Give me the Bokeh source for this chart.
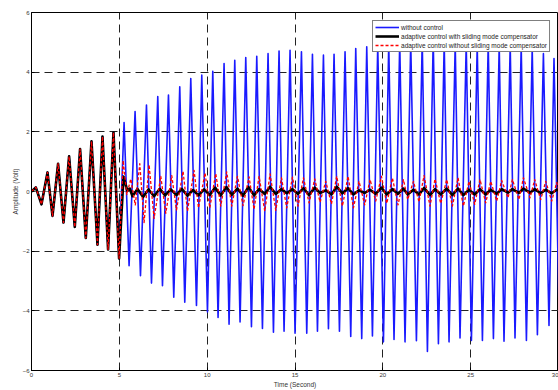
from bokeh.plotting import figure
from bokeh.models import Range1d, FixedTicker, Span, Legend, LegendItem
from bokeh.embed import file_html
from bokeh.resources import INLINE

# ---- data (time in seconds, amplitude in volts) ----
# common part (all three signals coincide before t = 5 s)
common_t = [0.00, 0.245, 0.569, 0.911, 1.195, 1.514, 1.821, 2.140, 2.464, 2.766,
            3.090, 3.415, 3.756, 4.041, 4.360, 4.667, 4.986]
common_v = [0.00, 0.14, -0.43, 0.64, -0.82, 0.93, -1.04, 1.18, -1.19, 1.42,
            -1.56, 1.68, -1.78, 1.84, -1.94, 1.98, -2.24]

# without control (after t = 5 s)
blue_t = [5.27, 5.555, 5.896, 6.204, 6.545, 6.830, 7.188, 7.456, 7.797, 8.099,
          8.440, 8.725, 9.067, 9.391, 9.693, 10.017, 10.319, 10.620, 10.962, 11.246,
          11.571, 11.872, 12.197, 12.521, 12.823, 13.147, 13.466, 13.773, 14.092, 14.377,
          14.718, 15.003, 15.367, 15.669, 15.993, 16.278, 16.619, 16.904, 17.223, 17.530,
          17.849, 18.173, 18.458, 18.799, 19.084, 19.408, 19.710, 20.034, 20.336, 20.637,
          20.962, 21.263, 21.588, 21.912, 22.242, 22.538, 22.868, 23.164, 23.494, 23.768,
          24.121, 24.394, 24.747, 25.043, 25.373, 25.669, 25.999, 26.295, 26.625, 26.898,
          27.251, 27.524, 27.877, 28.173, 28.503, 28.799, 29.141, 29.459, 29.744, 30.04]
blue_v = [2.31, -2.49, 2.68, -2.82, 2.90, -3.07, 3.18, -3.16, 3.23, -3.54,
          3.51, -3.71, 3.79, -3.82, 3.90, -4.04, 4.03, -4.22, 4.29, -4.45,
          4.40, -4.37, 4.49, -4.53, 4.53, -4.59, 4.62, -4.72, 4.71, -4.68,
          4.73, -4.75, 4.68, -4.75, 4.60, -4.68, 4.57, -4.60, 4.60, -4.68,
          4.68, -4.86, 4.79, -4.93, 4.85, -4.84, 4.90, -5.04, 4.95, -4.96,
          5.00, -5.04, 5.00, -5.00, 5.05, -5.36, 5.10, -5.10, 5.00, -5.04,
          4.95, -4.91, 4.95, -4.99, 4.90, -4.99, 4.95, -4.93, 4.90, -5.02,
          4.90, -4.91, 4.85, -4.99, 4.80, -4.80, 4.62, -4.49, 4.46, -4.30]

# adaptive control with sliding mode compensator (after t = 5 s)
black_t = [5.238, 5.455, 5.595, 5.748, 6.033, 6.352, 6.659, 6.978, 7.302, 7.604,
           7.928, 8.253, 8.554, 8.879, 9.197, 9.505, 9.823, 10.148, 10.450, 10.774,
           11.098, 11.400, 11.724, 12.043, 12.351, 12.669, 12.954, 13.278, 13.580, 13.904,
           14.229, 14.530, 14.855, 15.173, 15.481, 15.800, 16.124, 16.426, 16.750, 17.074,
           17.376, 17.700, 18.019, 18.327, 18.645, 18.970, 19.271, 19.596, 19.920, 20.222,
           20.546, 20.865, 21.172, 21.417, 21.741, 22.060, 22.345, 22.686, 22.971, 23.295,
           23.637, 23.961, 24.280, 24.587, 24.906, 25.230, 25.532, 25.856, 26.141, 26.483,
           26.767, 27.126, 27.376, 27.752, 28.002, 28.378, 28.645, 28.987, 29.272, 29.613,
           29.898, 30.22]
black_v = [0.50, 0.02, 0.10, -0.16, 0.08, -0.18, 0.07, -0.16, 0.09, -0.13,
           0.07, -0.12, 0.09, -0.14, 0.05, -0.13, 0.07, -0.12, 0.13, -0.13,
           0.15, -0.11, 0.10, -0.14, 0.15, -0.13, 0.08, -0.08, 0.16, -0.08,
           0.08, -0.06, 0.08, -0.08, 0.11, -0.12, 0.13, -0.05, 0.04, -0.10,
           0.16, -0.06, 0.11, -0.10, 0.04, -0.05, 0.06, -0.08, 0.13, -0.10,
           0.08, -0.08, 0.10, -0.10, 0.06, -0.10, 0.12, -0.12, 0.08, -0.10,
           0.10, -0.12, 0.10, -0.12, 0.06, -0.10, 0.08, -0.10, 0.06, -0.08,
           0.08, -0.04, 0.08, -0.05, 0.10, -0.04, 0.08, -0.06, 0.06, -0.06,
           0.06, -0.06]

# adaptive control without sliding mode compensator (after t = 5 s)
red_t = [5.216, 5.424, 5.652, 5.908, 6.164, 6.409, 6.693, 6.978, 7.359, 7.644,
         7.985, 8.253, 8.628, 8.879, 9.254, 9.505, 9.880, 10.148, 10.489, 10.774,
         11.115, 11.400, 11.724, 12.043, 12.385, 12.669, 12.954, 13.278, 13.580, 13.904,
         14.229, 14.530, 14.855, 15.173, 15.481, 15.800, 16.124, 16.426, 16.750, 17.074,
         17.376, 17.700, 18.019, 18.327, 18.645, 18.970, 19.271, 19.596, 19.920, 20.222,
         20.546, 20.865, 21.172, 21.417, 21.741, 22.060, 22.345, 22.686, 22.971, 23.295,
         23.637, 23.961, 24.280, 24.587, 24.906, 25.230, 25.532, 25.856, 26.141, 26.483,
         26.767, 27.126, 27.376, 27.752, 28.002, 28.378, 28.645, 28.987, 29.272, 29.613,
         29.898, 30.22]
red_v = [1.04, -0.10, 0.42, -0.45, 0.93, -1.04, 0.90, -0.90, 0.51, -0.73,
         0.53, -0.62, 0.68, -0.66, 0.71, -0.55, 0.62, -0.55, 0.60, -0.49,
         0.66, -0.49, 0.51, -0.47, 0.49, -0.60, 0.51, -0.66, 0.59, -0.63,
         0.46, -0.55, 0.48, -0.49, 0.46, -0.38, 0.42, -0.36, 0.34, -0.42,
         0.51, -0.49, 0.51, -0.55, 0.34, -0.45, 0.40, -0.32, 0.51, -0.40,
         0.45, -0.45, 0.40, -0.27, 0.34, -0.35, 0.53, -0.49, 0.42, -0.40,
         0.40, -0.49, 0.46, -0.49, 0.34, -0.43, 0.40, -0.38, 0.34, -0.32,
         0.37, -0.21, 0.40, -0.27, 0.46, -0.21, 0.40, -0.27, 0.34, -0.32,
         0.30, -0.32]

x_ticks = [0, 5, 10, 15, 20, 25, 30]
y_ticks = [-6, -4, -2, 0, 2, 4, 6]
x_grid = [5, 10, 15, 20, 25]
y_grid = [-4, -2, 2, 4]
zero_level = 0
labels = ["without control",
          "adaptive control with sliding mode compensator",
          "adaptive control without sliding mode compensator"]

FONT = "Liberation Sans"

p = figure(width=558, height=390, output_backend="svg", toolbar_location=None,
           x_range=Range1d(0, 30), y_range=Range1d(-6, 6),
           min_border_left=31, min_border_right=0, min_border_top=12,
           min_border_bottom=17)
p.background_fill_color = "white"
p.border_fill_color = "white"
p.outline_line_color = "black"
p.outline_line_width = 1

# grids
p.xgrid.ticker = FixedTicker(ticks=x_grid)
p.ygrid.ticker = FixedTicker(ticks=y_grid)
for g in (p.xgrid, p.ygrid):
    g.grid_line_color = "#222222"
    g.grid_line_dash = "8 5"
    g.grid_line_width = 1

zero = Span(location=zero_level, dimension="width", line_color="#888888",
            line_width=1, level="underlay")
p.add_layout(zero)

# axes
p.xaxis.ticker = FixedTicker(ticks=x_ticks)
p.yaxis.ticker = FixedTicker(ticks=y_ticks)
for ax in (p.xaxis, p.yaxis):
    ax.axis_line_color = "black"
    ax.major_tick_in = 3
    ax.major_tick_out = 0
    ax.minor_tick_line_color = None
    ax.major_label_text_font = FONT
    ax.major_label_text_font_size = "6px"
    ax.major_label_text_color = "#333333"
    ax.major_label_standoff = 2
    ax.axis_label_text_font = FONT
    ax.axis_label_text_font_size = "6.5px"
    ax.axis_label_text_font_style = "normal"
    ax.axis_label_text_color = "#333333"
    ax.axis_label_standoff = 1
p.xaxis.axis_label = "Time (Second)"
p.yaxis.axis_label = "Amplitude (Volt)"

# lines
bt = common_t + blue_t
bv = common_v + blue_v
kt = common_t + black_t
kv = common_v + black_v
rt = common_t + red_t
rv = common_v + red_v

r_blue = p.line(bt, bv, line_color="#1a1aff", line_width=1.6, line_join="round")
r_black = p.line(kt, kv, line_color="black", line_width=2.6, line_join="round")
r_red = p.line(rt, rv, line_color="#ff0000", line_width=1.3, line_dash="3 2",
               line_join="round")

legend = Legend(items=[LegendItem(label=labels[0], renderers=[r_blue]),
                       LegendItem(label=labels[1], renderers=[r_black]),
                       LegendItem(label=labels[2], renderers=[r_red])],
                location="top_right")
legend.margin = 8
legend.padding = 2
legend.spacing = 1
legend.label_height = 8
legend.glyph_height = 8
legend.glyph_width = 24
legend.label_standoff = 2
legend.label_text_font = FONT
legend.label_text_font_size = "6.5px"
legend.label_text_color = "#222222"
legend.border_line_color = "black"
legend.border_line_width = 1
legend.background_fill_alpha = 1
p.add_layout(legend, "center")

open("out.html", "w").write(file_html(p, INLINE))
